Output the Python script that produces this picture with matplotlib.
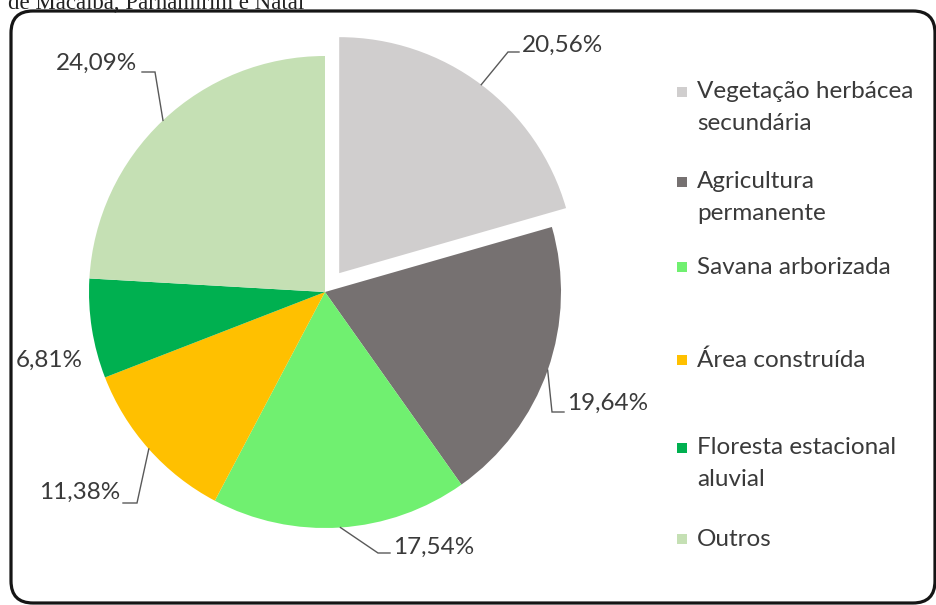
import matplotlib
matplotlib.use("Agg")
import matplotlib.pyplot as plt
from matplotlib.patches import FancyBboxPatch, Rectangle
import numpy as np

# Land-cover shares (%)
categories = [
    "Vegetação herbácea\nsecundária",
    "Agricultura\npermanente",
    "Savana arborizada",
    "Área construída",
    "Floresta estacional\naluvial",
    "Outros",
]
shares = [20.56, 19.64, 17.54, 11.38, 6.81, 24.09]
colors = ["#D0CECE", "#767171", "#70F070", "#FFC000", "#00B050", "#C5E0B4"]
explode = [0.1, 0, 0, 0, 0, 0]
caption = "de Macaíba, Parnamirim e Natal"

W, H = 937, 605
fig = plt.figure(figsize=(W / 100, H / 100), dpi=100)
ax = fig.add_axes([0, 0, 1, 1])
ax.set_xlim(0, W)
ax.set_ylim(0, H)
ax.axis("off")

FONT = "Lato"
TXT = "#3a3a3a"
FS = 17.5

def py(y_top):
    """Convert a top-based pixel row to axes units."""
    return H - y_top

# Rounded frame around the chart
frame = FancyBboxPatch((11, py(603)), 924, 592,
                       boxstyle="round,pad=0,rounding_size=22",
                       fill=False, edgecolor="#151515", linewidth=2.3)
ax.add_patch(frame)

# Caption line at the top edge (partly outside the canvas)
ax.text(8, py(9), caption, family="Liberation Serif", fontsize=16.5,
        color="#222222", ha="left", va="baseline")

# Pie (explode offsets are given as a fraction of the radius)
cx, cy, R = 325, py(292), 236
wedges, _ = ax.pie(shares, colors=colors, explode=[e * R for e in explode],
                   startangle=90, counterclock=False, center=(cx, cy),
                   radius=R, wedgeprops=dict(linewidth=0))
ax.set_xlim(0, W)
ax.set_ylim(0, H)
ax.set_aspect("auto")

# Percentage labels: (text x, text center y, alignment, elbow, line end) in px
label_layout = [
    (522, 45, "left", (508, 52), (519, 52)),
    (567, 403, "left", (552, 412), (564, 412)),
    (393, 547, "left", (378, 553), (390, 553)),
    (120, 492, "right", (137, 503), (123, 503)),
    (83, 360, "right", None, None),
    (137, 63, "right", (155, 72), (142, 72)),
]

for w, val, (tx, ty, ha, elbow, end) in zip(wedges, shares, label_layout):
    txt = f"{val:.2f}%".replace(".", ",")
    ax.text(tx, py(ty), txt, family=FONT, fontsize=FS, color=TXT,
            ha=ha, va="center")
    if elbow is not None:
        mid = np.deg2rad((w.theta1 + w.theta2) / 2)
        ax0 = w.center[0] + w.r * np.cos(mid)
        ay0 = w.center[1] + w.r * np.sin(mid)
        ax.plot([ax0, elbow[0], end[0]], [ay0, py(elbow[1]), py(end[1])],
                color="#595959", linewidth=1.0, solid_joinstyle="miter")

# Legend
legend_rows = [92, 182, 267, 360, 448, 539]
for name, col, yrow in zip(categories, colors, legend_rows):
    ax.add_patch(Rectangle((677, py(yrow) - 5), 10, 10, facecolor=col,
                           edgecolor="none"))
    for i, line in enumerate(name.split("\n")):
        ax.text(697, py(yrow + 32 * i), line, family=FONT, fontsize=FS,
                color=TXT, ha="left", va="center")

fig.savefig("out.png", dpi=100)
